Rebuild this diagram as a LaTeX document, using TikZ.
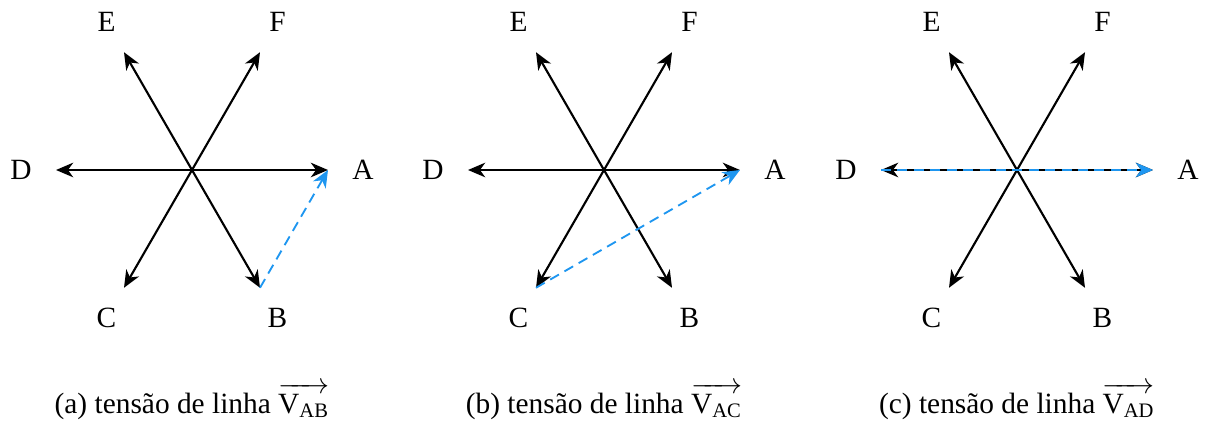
\documentclass[tikz,border=0pt]{standalone}
\usepackage{amsmath}
\usepackage{fontspec}
\setmainfont{Liberation Serif}
\usetikzlibrary{arrows.meta, calc}
\definecolor{LineBlue}{HTML}{1E96F0}
\tikzset{
  phasor/.style={-{Stealth[length=6.5pt, width=5.5pt, inset=2pt]}, line width=0.8pt, draw=black},
  linevolt/.style={-{Stealth[length=6.5pt, width=5.5pt, inset=2pt]}, line width=0.7pt, draw=LineBlue, dash pattern=on 3.8pt off 2.4pt},
  phaselabel/.style={font=\fontsize{11.1}{13}\selectfont, inner sep=0pt},
  caption/.style={font=\fontsize{11.1}{13}\selectfont, anchor=base}
}
\begin{document}
\begin{tikzpicture}[x=0.01328cm, y=0.01328cm]
\useasboundingbox (0,0) rectangle (1205,426);
\foreach \cx/\pn/\fr/\vv in {192/a/B/AB, 604/b/C/AC, 1017/c/D/AD} {
  \coordinate (O\pn) at (\cx,256);
  \foreach \phs/\ang in {A/0, F/60, E/120, D/180, C/240, B/300} {
    \coordinate (\phs\pn) at ($(O\pn)+(\ang:136)$);
    \node[phaselabel] (L\phs\pn) at ($(O\pn)+(\ang:171)$) {\phs};
    \draw[phasor] (O\pn) -- (\phs\pn);
  }
  \draw[linevolt] (\fr\pn) -- (A\pn);
  \node[caption] (cap\pn) at (\cx,13) {(\pn) tensão de linha $\overrightarrow{\text{V}_{\text{\vv}}}$};
}
\end{tikzpicture}
\end{document}
